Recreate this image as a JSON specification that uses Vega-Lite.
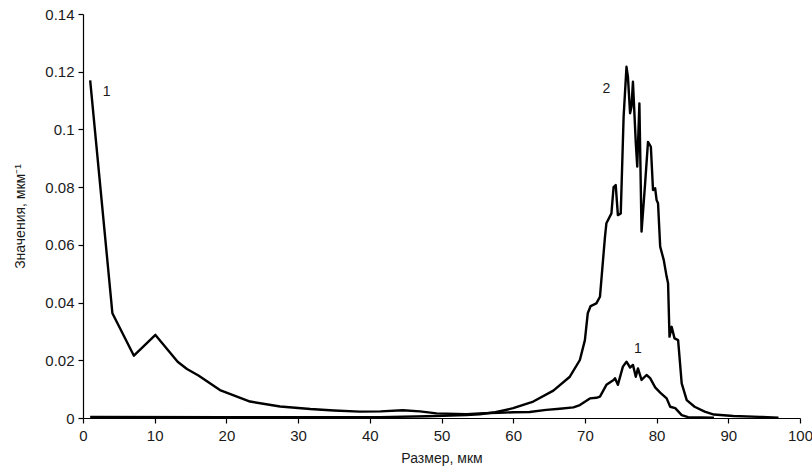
{
  "$schema": "https://vega.github.io/schema/vega-lite/v6.json",
  "width": 717,
  "height": 404,
  "autosize": "none",
  "padding": {"left": 83, "top": 14, "right": 12, "bottom": 52},
  "background": "white",
  "config": {
    "view": {"stroke": null},
    "font": "Liberation Sans",
    "axis": {
      "grid": false,
      "domainColor": "black",
      "domainWidth": 1.2,
      "tickColor": "black",
      "tickWidth": 1.2,
      "tickSize": 5,
      "labelFont": "Liberation Sans",
      "labelFontSize": 15,
      "labelColor": "#1a1a1a",
      "titleFont": "Liberation Sans",
      "titleFontSize": 14,
      "titleFontWeight": "normal",
      "titleColor": "#1a1a1a"
    }
  },
  "datasets": {
    "curves": [
      {"x": 1, "y": 0.117, "s": "1"},
      {"x": 4.1, "y": 0.0363, "s": "1"},
      {"x": 7.1, "y": 0.0216, "s": "1"},
      {"x": 10.1, "y": 0.0288, "s": "1"},
      {"x": 13.2, "y": 0.0195, "s": "1"},
      {"x": 14.5, "y": 0.017, "s": "1"},
      {"x": 16.1, "y": 0.0147, "s": "1"},
      {"x": 19.1, "y": 0.0097, "s": "1"},
      {"x": 23.3, "y": 0.0057, "s": "1"},
      {"x": 27.5, "y": 0.004, "s": "1"},
      {"x": 31.7, "y": 0.0031, "s": "1"},
      {"x": 35.0, "y": 0.0026, "s": "1"},
      {"x": 38.6, "y": 0.0022, "s": "1"},
      {"x": 41.5, "y": 0.0023, "s": "1"},
      {"x": 44.6, "y": 0.0027, "s": "1"},
      {"x": 47.0, "y": 0.0023, "s": "1"},
      {"x": 49.3, "y": 0.0016, "s": "1"},
      {"x": 53.5, "y": 0.0013, "s": "1"},
      {"x": 55.3, "y": 0.0016, "s": "1"},
      {"x": 58.0, "y": 0.0018, "s": "1"},
      {"x": 60.0, "y": 0.002, "s": "1"},
      {"x": 62.3, "y": 0.0021, "s": "1"},
      {"x": 64.6, "y": 0.0028, "s": "1"},
      {"x": 66.5, "y": 0.0032, "s": "1"},
      {"x": 68.4, "y": 0.0037, "s": "1"},
      {"x": 69.3, "y": 0.0045, "s": "1"},
      {"x": 70.7, "y": 0.0068, "s": "1"},
      {"x": 71.6, "y": 0.007, "s": "1"},
      {"x": 72.1, "y": 0.0074, "s": "1"},
      {"x": 73.0, "y": 0.0115, "s": "1"},
      {"x": 74.0, "y": 0.0132, "s": "1"},
      {"x": 74.2, "y": 0.0138, "s": "1"},
      {"x": 74.6, "y": 0.0115, "s": "1"},
      {"x": 75.3, "y": 0.0178, "s": "1"},
      {"x": 75.8, "y": 0.0195, "s": "1"},
      {"x": 76.3, "y": 0.0175, "s": "1"},
      {"x": 76.7, "y": 0.0184, "s": "1"},
      {"x": 77.1, "y": 0.0143, "s": "1"},
      {"x": 77.4, "y": 0.0172, "s": "1"},
      {"x": 77.9, "y": 0.0132, "s": "1"},
      {"x": 78.6, "y": 0.0149, "s": "1"},
      {"x": 79.1, "y": 0.0138, "s": "1"},
      {"x": 79.8, "y": 0.0106, "s": "1"},
      {"x": 80.5, "y": 0.0088, "s": "1"},
      {"x": 81.4, "y": 0.0068, "s": "1"},
      {"x": 81.9, "y": 0.0039, "s": "1"},
      {"x": 82.6, "y": 0.0034, "s": "1"},
      {"x": 83.5, "y": 0.001, "s": "1"},
      {"x": 84.4, "y": 0.0003, "s": "1"},
      {"x": 88.0, "y": 0.0001, "s": "1"},
      {"x": 1, "y": 0.0004, "s": "2"},
      {"x": 20, "y": 0.0003, "s": "2"},
      {"x": 41.4, "y": 0.0003, "s": "2"},
      {"x": 48.0, "y": 0.0006, "s": "2"},
      {"x": 53.5, "y": 0.001, "s": "2"},
      {"x": 55.3, "y": 0.0013, "s": "2"},
      {"x": 57.5, "y": 0.002, "s": "2"},
      {"x": 60.0, "y": 0.0034, "s": "2"},
      {"x": 62.8, "y": 0.0057, "s": "2"},
      {"x": 65.6, "y": 0.0095, "s": "2"},
      {"x": 67.9, "y": 0.0143, "s": "2"},
      {"x": 69.3, "y": 0.0201, "s": "2"},
      {"x": 70.0, "y": 0.027, "s": "2"},
      {"x": 70.4, "y": 0.0363, "s": "2"},
      {"x": 70.8, "y": 0.0388, "s": "2"},
      {"x": 71.6, "y": 0.0397, "s": "2"},
      {"x": 72.1, "y": 0.042, "s": "2"},
      {"x": 72.8, "y": 0.0628, "s": "2"},
      {"x": 73.0, "y": 0.0675, "s": "2"},
      {"x": 73.7, "y": 0.0709, "s": "2"},
      {"x": 74.0, "y": 0.08, "s": "2"},
      {"x": 74.3, "y": 0.0807, "s": "2"},
      {"x": 74.6, "y": 0.0703, "s": "2"},
      {"x": 75.0, "y": 0.0709, "s": "2"},
      {"x": 75.4, "y": 0.1044, "s": "2"},
      {"x": 75.8, "y": 0.1217, "s": "2"},
      {"x": 76.0, "y": 0.1183, "s": "2"},
      {"x": 76.3, "y": 0.1056, "s": "2"},
      {"x": 76.5, "y": 0.1079, "s": "2"},
      {"x": 76.7, "y": 0.1165, "s": "2"},
      {"x": 77.1, "y": 0.0952, "s": "2"},
      {"x": 77.3, "y": 0.0871, "s": "2"},
      {"x": 77.6, "y": 0.109, "s": "2"},
      {"x": 77.9, "y": 0.0646, "s": "2"},
      {"x": 78.4, "y": 0.0813, "s": "2"},
      {"x": 78.8, "y": 0.0957, "s": "2"},
      {"x": 79.2, "y": 0.094, "s": "2"},
      {"x": 79.5, "y": 0.079, "s": "2"},
      {"x": 79.8, "y": 0.0796, "s": "2"},
      {"x": 80.0, "y": 0.0755, "s": "2"},
      {"x": 80.2, "y": 0.0744, "s": "2"},
      {"x": 80.5, "y": 0.0594, "s": "2"},
      {"x": 81.0, "y": 0.0547, "s": "2"},
      {"x": 81.4, "y": 0.049, "s": "2"},
      {"x": 81.6, "y": 0.0467, "s": "2"},
      {"x": 81.8, "y": 0.0282, "s": "2"},
      {"x": 82.1, "y": 0.0316, "s": "2"},
      {"x": 82.5, "y": 0.0276, "s": "2"},
      {"x": 83.0, "y": 0.027, "s": "2"},
      {"x": 83.5, "y": 0.012, "s": "2"},
      {"x": 84.2, "y": 0.0062, "s": "2"},
      {"x": 85.3, "y": 0.0039, "s": "2"},
      {"x": 86.7, "y": 0.0022, "s": "2"},
      {"x": 88.0, "y": 0.0012, "s": "2"},
      {"x": 90.7, "y": 0.0007, "s": "2"},
      {"x": 94.4, "y": 0.0004, "s": "2"},
      {"x": 97.0, "y": 0.0001, "s": "2"}
    ],
    "labels": [
      {"x": 3.3, "y": 0.113, "t": "1"},
      {"x": 73.0, "y": 0.114, "t": "2"},
      {"x": 77.4, "y": 0.0239, "t": "1"}
    ]
  },
  "layer": [
    {
      "data": {"name": "curves"},
      "mark": {"type": "line", "color": "black", "strokeWidth": 2.4, "strokeJoin": "round", "clip": true},
      "encoding": {
        "x": {
          "field": "x", "type": "quantitative",
          "scale": {"domain": [0, 100], "nice": false, "zero": false},
          "axis": {"values": [0, 10, 20, 30, 40, 50, 60, 70, 80, 90, 100], "title": "Размер,  мкм", "labelPadding": 5, "titlePadding": 8, "labelFlush": false}
        },
        "y": {
          "field": "y", "type": "quantitative",
          "scale": {"domain": [0, 0.14], "nice": false},
          "axis": {"values": [0, 0.02, 0.04, 0.06, 0.08, 0.1, 0.12, 0.14], "format": ".2~f", "title": "Значения, мкм⁻¹", "labelPadding": 4, "titlePadding": 17}
        },
        "detail": {"field": "s"}
      }
    },
    {
      "data": {"name": "labels"},
      "mark": {"type": "text", "font": "Liberation Sans", "fontSize": 14, "color": "#1a1a1a"},
      "encoding": {
        "x": {"field": "x", "type": "quantitative"},
        "y": {"field": "y", "type": "quantitative"},
        "text": {"field": "t"}
      }
    }
  ]
}
